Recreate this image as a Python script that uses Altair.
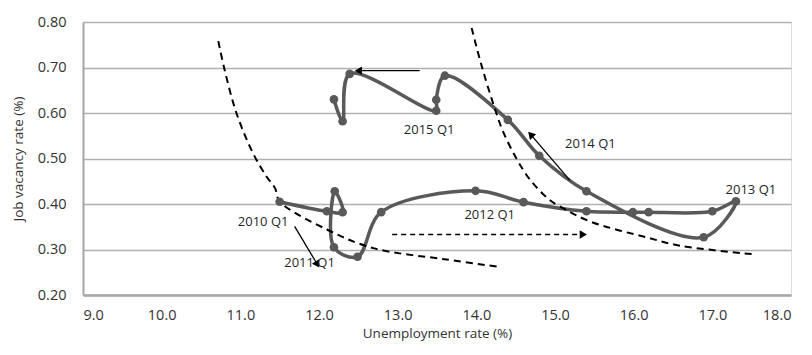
import altair as alt
import pandas as pd

# Beveridge curve path (in chronological drawing order)
unemp = [11.50, 12.10, 12.30, 12.20, 12.19, 12.49, 12.79, 13.99, 14.60, 15.40, 15.99, 16.19,
         17.00, 17.30, 16.89, 15.40, 14.80, 14.40, 13.60, 13.49, 13.49, 12.39, 12.30, 12.19]
vacancy = [0.405, 0.384, 0.382, 0.428, 0.305, 0.284, 0.382, 0.429, 0.404, 0.384, 0.382, 0.382,
           0.384, 0.406, 0.327, 0.428, 0.506, 0.585, 0.682, 0.629, 0.605, 0.686, 0.582, 0.630]

# Dashed iso-curves
left_u = [10.72, 10.80, 10.95, 11.16, 11.33, 11.44, 11.50, 12.10, 12.69, 13.62, 14.32]
left_v = [0.758, 0.695, 0.600, 0.512, 0.461, 0.435, 0.406, 0.344, 0.303, 0.278, 0.261]
right_u = [13.94, 14.07, 14.24, 14.34, 14.51, 14.68, 14.93, 15.06, 15.44, 16.20, 16.60, 17.50]
right_v = [0.787, 0.702, 0.607, 0.559, 0.500, 0.454, 0.409, 0.395, 0.362, 0.325, 0.308, 0.290]

# Labels
label_text = ["2010 Q1", "2011 Q1", "2012 Q1", "2013 Q1", "2014 Q1", "2015 Q1"]
label_u = [11.29, 11.88, 14.17, 17.49, 15.45, 13.40]
label_v = [0.361, 0.271, 0.376, 0.431, 0.532, 0.563]

# Arrows (start -> end, head angle)
arr_u1 = [13.28, 11.69, 15.19]
arr_v1 = [0.693, 0.351, 0.452]
arr_u2 = [12.50, 11.98, 14.69]
arr_v2 = [0.693, 0.267, 0.553]
arr_ang = [270, 148, 318]
darr_u1 = [12.93]
darr_v1 = [0.333]
darr_u2 = [15.36]
darr_v2 = [0.333]
darr_ang = [90]

x_ticks = [9, 10, 11, 12, 13, 14, 15, 16, 17, 18]
y_ticks = [0.2, 0.3, 0.4, 0.5, 0.6, 0.7, 0.8]

FONT = "Open Sans"
GRAY = "#595959"

xs = alt.Scale(domain=[9, 18], zero=False, nice=False)
ys = alt.Scale(domain=[0.2, 0.8], zero=False, nice=False)

path = pd.DataFrame({"u": unemp, "v": vacancy, "i": list(range(len(unemp)))})
dl = pd.DataFrame({"u": left_u, "v": left_v, "i": list(range(len(left_u)))})
dr = pd.DataFrame({"u": right_u, "v": right_v, "i": list(range(len(right_u)))})
labs = pd.DataFrame({"t": label_text, "u": label_u, "v": label_v})
arrows = pd.DataFrame({"u1": arr_u1, "v1": arr_v1, "u2": arr_u2, "v2": arr_v2, "a": arr_ang})
darrows = pd.DataFrame({"u1": darr_u1, "v1": darr_v1, "u2": darr_u2, "v2": darr_v2, "a": darr_ang})

xax = alt.X("u:Q", scale=xs, title="Unemployment rate (%)",
            axis=alt.Axis(values=x_ticks, format=".1f", grid=False, ticks=False,
                          domainColor="#a6a6a6", domainWidth=2.5, labelPadding=13,
                          labelFontSize=14.5, titleFontSize=13.5, titlePadding=5,
                          labelFont=FONT, titleFont=FONT, labelColor="#333333",
                          titleColor="#333333", titleFontWeight="normal"))
yax = alt.Y("v:Q", scale=ys, title="Job vacancy rate (%)",
            axis=alt.Axis(values=y_ticks, format=".2f", grid=True, ticks=False,
                          gridColor="#b0b0b0", gridWidth=1.5,
                          domainColor="#a6a6a6", domainWidth=2, labelPadding=17,
                          labelFontSize=14.5, titleFontSize=13.5, titlePadding=12,
                          labelFont=FONT, titleFont=FONT, labelColor="#333333",
                          titleColor="#333333", titleFontWeight="normal"))


def X(f):
    return alt.X(f, scale=xs)


def Y(f):
    return alt.Y(f, scale=ys)


base_line = alt.Chart(path).mark_line(interpolate="catmull-rom", color=GRAY, strokeWidth=3.5).encode(
    x=xax, y=yax, order=alt.Order("i:Q"))
pts = alt.Chart(path).mark_circle(size=75, color=GRAY, opacity=1).encode(x=X("u:Q"), y=Y("v:Q"))


def dashed(df):
    return alt.Chart(df).mark_line(interpolate="catmull-rom", color="black", strokeWidth=2,
                                   strokeDash=[7, 5]).encode(x=X("u:Q"), y=Y("v:Q"),
                                                             order=alt.Order("i:Q"))


texts = alt.Chart(labs).mark_text(font=FONT, fontSize=13, color="#262626").encode(
    x=X("u:Q"), y=Y("v:Q"), text="t:N")

arr_rule = alt.Chart(arrows).mark_rule(color="black", strokeWidth=1.3).encode(
    x=X("u1:Q"), y=Y("v1:Q"), x2="u2:Q", y2="v2:Q")
arr_head = alt.Chart(arrows).mark_point(shape="triangle-up", filled=True, color="black",
                                        size=70, opacity=1).encode(
    x=X("u2:Q"), y=Y("v2:Q"), angle=alt.Angle("a:Q", scale=None))
darr_rule = alt.Chart(darrows).mark_rule(color="black", strokeWidth=1.5, strokeDash=[5, 4]).encode(
    x=X("u1:Q"), y=Y("v1:Q"), x2="u2:Q", y2="v2:Q")
darr_head = alt.Chart(darrows).mark_point(shape="triangle-up", filled=True, color="black",
                                          size=70, opacity=1).encode(
    x=X("u2:Q"), y=Y("v2:Q"), angle=alt.Angle("a:Q", scale=None))

chart = alt.layer(base_line, dashed(dl), dashed(dr), pts, arr_rule, arr_head,
                  darr_rule, darr_head, texts).properties(
    width=708, height=273,
    padding={"left": 75, "top": 14, "right": 10, "bottom": 60},
    autosize="none",
).configure_view(stroke=None).configure(background="white")

chart.save("out.html", embed_options={"renderer": "svg", "actions": False})
